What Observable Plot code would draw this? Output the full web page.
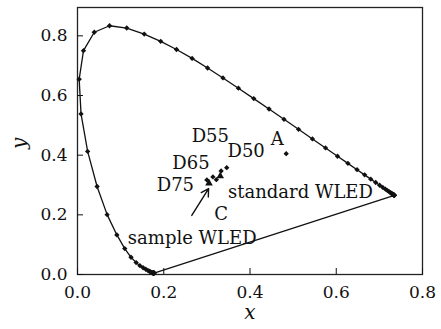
<!DOCTYPE html>
<html><head><meta charset="utf-8">
<script src="https://cdn.jsdelivr.net/npm/d3@7"></script>
<script src="https://cdn.jsdelivr.net/npm/@observablehq/plot@0.6"></script>
<style>body{margin:0;background:#fff}</style>
</head><body><div id="chart"></div>
<script>
// Spectral locus, 380-700 nm every 5 nm
const locusX = [0.1775,0.1774,0.1772,0.1770,0.1767,0.1763,0.1758,0.1752,0.1744,0.1732,0.1716,0.1694,0.1666,0.1630,0.1583,0.1522,0.1447,0.1360,0.1241,0.1096,0.0913,0.0687,0.0454,0.0235,0.0082,0.0039,0.0139,0.0389,0.0743,0.1142,0.1547,0.1929,0.2296,0.2658,0.3016,0.3373,0.3731,0.4087,0.4441,0.4788,0.5125,0.5448,0.5752,0.6029,0.6270,0.6482,0.6658,0.6801,0.6915,0.7006,0.7079,0.7140,0.7190,0.7230,0.7260,0.7283,0.7300,0.7311,0.7320,0.7327,0.7334,0.7340,0.7344,0.7346,0.7347];
const locusY = [0.0050,0.0050,0.0049,0.0049,0.0048,0.0048,0.0048,0.0048,0.0051,0.0058,0.0069,0.0086,0.0109,0.0138,0.0177,0.0227,0.0297,0.0399,0.0578,0.0868,0.1327,0.2007,0.2950,0.4127,0.5384,0.6548,0.7502,0.8120,0.8338,0.8262,0.8059,0.7816,0.7543,0.7243,0.6923,0.6589,0.6245,0.5896,0.5547,0.5202,0.4866,0.4544,0.4242,0.3965,0.3725,0.3514,0.3340,0.3197,0.3083,0.2993,0.2920,0.2859,0.2809,0.2770,0.2740,0.2717,0.2700,0.2689,0.2680,0.2673,0.2666,0.2660,0.2656,0.2654,0.2653];

// Standard illuminants (diamonds)
const whiteNames = ["D50","D55","D65","D75","C","A"];
const whiteX = [0.346,0.333,0.314,0.300,0.322,0.484];
const whiteY = [0.358,0.347,0.327,0.317,0.318,0.405];

// WLED points (triangles)
const wledNames = ["standard WLED","sample WLED"];
const wledX = [0.331,0.305];
const wledY = [0.330,0.306];

// Annotation labels
const labelText = ["D55","D65","D50","A","D75","standard WLED","C","sample WLED"];
const labelX = [0.308,0.263,0.391,0.463,0.227,0.517,0.333,0.266];
const labelY = [0.463,0.374,0.413,0.455,0.299,0.277,0.203,0.122];

// Arrow
const arrowX1 = [0.265], arrowY1 = [0.198], arrowX2 = [0.304], arrowY2 = [0.288];

const xTicks = [0,0.2,0.4,0.6,0.8];
const yTicks = [0,0.2,0.4,0.6,0.8];

const locus = locusX.map((x,i)=>({x, y: locusY[i]}));
const purple = [locus[locus.length-1], locus[0]];
const whites = whiteNames.map((n,i)=>({n, x: whiteX[i], y: whiteY[i]}));
const wleds = wledNames.map((n,i)=>({n, x: wledX[i], y: wledY[i]}));
const labels = labelText.map((t,i)=>({t, x: labelX[i], y: labelY[i]}));
const arrows = arrowX1.map((x1,i)=>({x1, y1: arrowY1[i], x2: arrowX2[i], y2: arrowY2[i]}));

const chart = Plot.plot({
  width: 441, height: 329,
  marginLeft: 77, marginRight: 19, marginTop: 7, marginBottom: 55,
  x: {domain: [0,0.8]},
  y: {domain: [0,0.895]},
  style: {fontFamily: "'DejaVu Serif', serif", fontSize: "17px", color: "#111", background: "#fff"},
  marks: [
    Plot.frame({stroke: "#222", strokeWidth: 1.3}),
    Plot.axisX({ticks: xTicks, tickSize: -6, tickPadding: 17, tickFormat: d3.format(".1f"), label: null}),
    Plot.axisY({ticks: yTicks, tickSize: -6, tickPadding: 16, tickFormat: d3.format(".1f"), label: null}),
    Plot.line(locus, {x: "x", y: "y", stroke: "#111", strokeWidth: 1.3}),
    Plot.line(purple, {x: "x", y: "y", stroke: "#111", strokeWidth: 1.3}),
    Plot.dot(locus, {x: "x", y: "y", symbol: "diamond2", r: 2.4, fill: "#111"}),
    Plot.dot(whites, {x: "x", y: "y", symbol: "diamond2", r: 2.4, fill: "#111"}),
    Plot.dot(wleds, {x: "x", y: "y", symbol: "triangle", r: 2.8, fill: "#111"}),
    Plot.arrow(arrows, {x1: "x1", y1: "y1", x2: "x2", y2: "y2", stroke: "#111", strokeWidth: 1.4, headLength: 9}),
    Plot.text(labels, {x: "x", y: "y", text: "t", fill: "#111", fontSize: 18}),
    Plot.text(["x"], {frameAnchor: "bottom", dy: 44, text: d => d, fontStyle: "italic", fontSize: 20, fill: "#111"}),
    Plot.text(["y"], {frameAnchor: "left", dx: -58, dy: 8, rotate: -90, text: d => d, fontStyle: "italic", fontSize: 20, fill: "#111"})
  ]
});
document.getElementById("chart").append(chart);
</script>
</body></html>
